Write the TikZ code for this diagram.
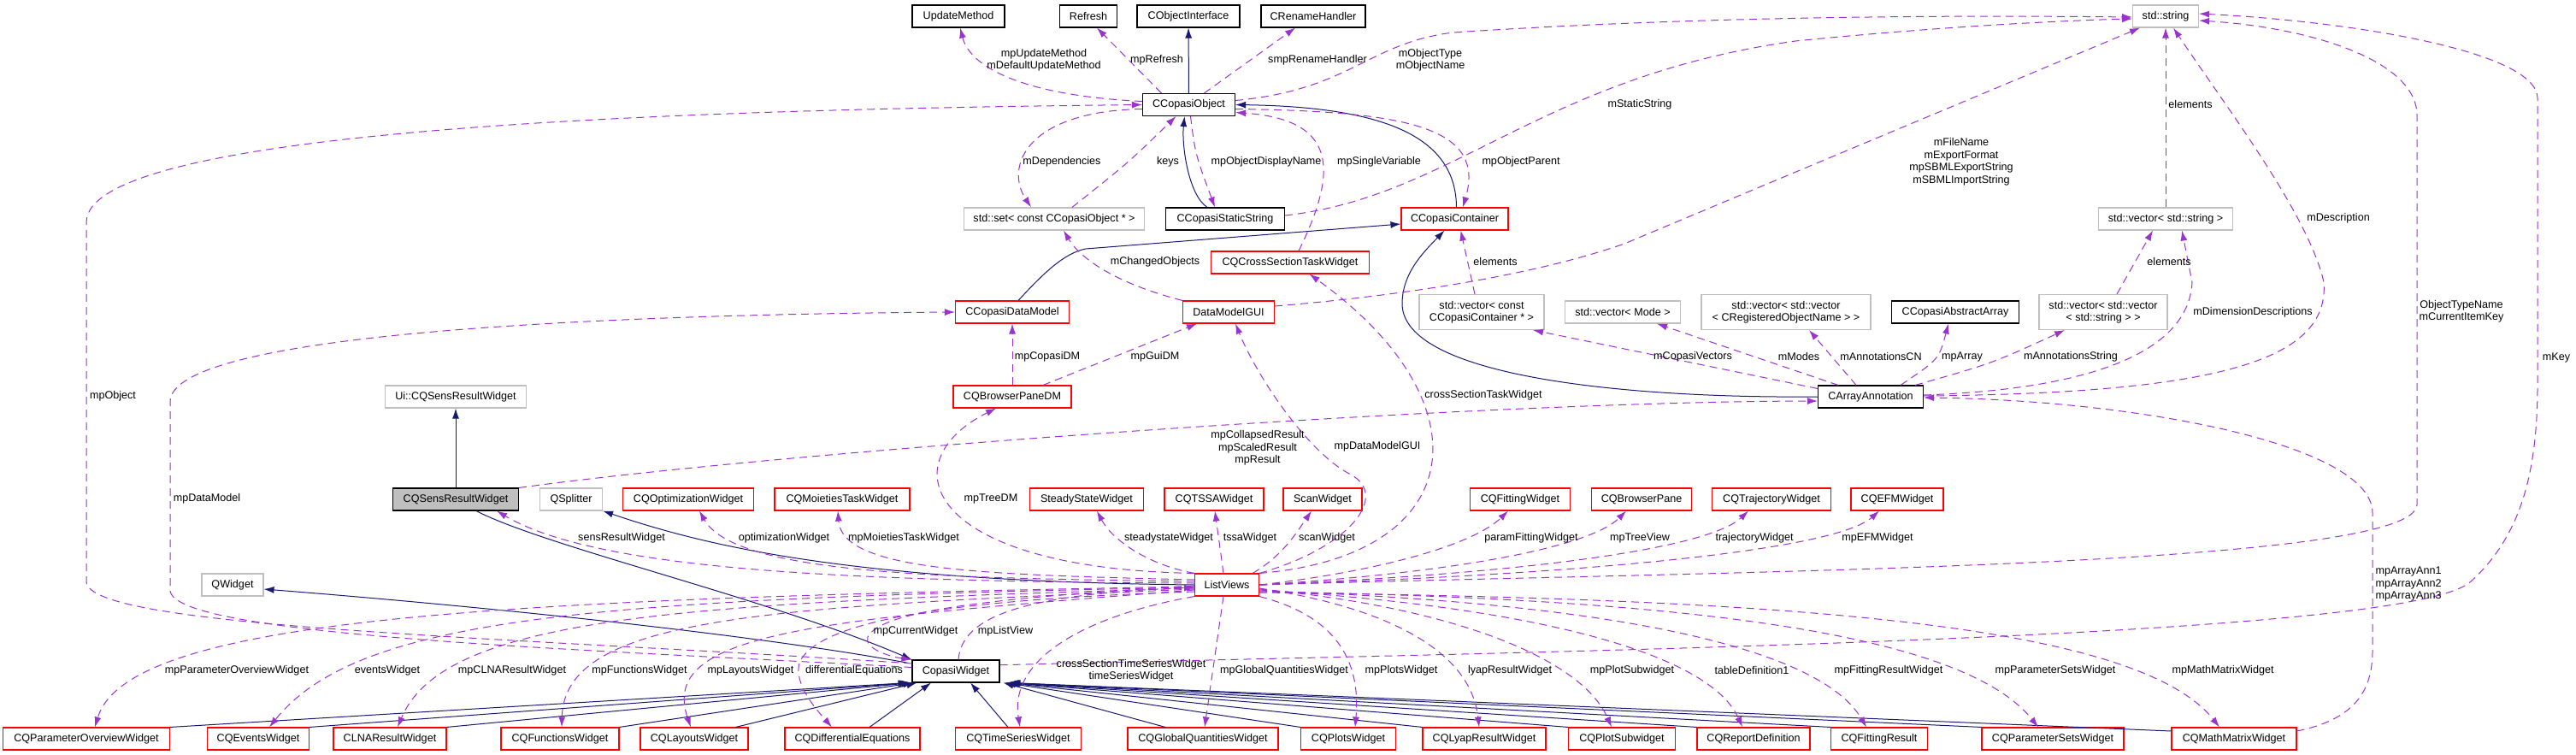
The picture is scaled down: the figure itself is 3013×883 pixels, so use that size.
\documentclass[tikz,border=0pt]{standalone}
\usepackage{fontspec}
\setmainfont{Liberation Sans}
\usetikzlibrary{arrows.meta,calc}
\definecolor{inhcol}{HTML}{191970}
\definecolor{usecol}{HTML}{9A32CD}
\definecolor{redcol}{HTML}{FF0000}
\definecolor{graycol}{HTML}{BFBFBF}
\tikzset{
 boxbase/.style={rectangle, inner sep=0pt, minimum height=26pt, align=center, line width=1.1pt},
 kbox/.style={boxbase, draw=black, fill=white},
 rbox/.style={boxbase, draw=redcol, fill=white},
 gbox/.style={boxbase, draw=graycol, fill=white},
 sbox/.style={boxbase, draw=black, fill=graycol},
 lbl/.style={inner sep=0pt, align=center},
 inhedge/.style={draw=inhcol, line width=1pt, -{Latex[length=12pt,width=8pt]}},
 useedge/.style={draw=usecol, line width=1pt, dash pattern=on 9pt off 6pt, -{Latex[length=12pt,width=8pt]}},
}
\begin{document}
\begin{tikzpicture}[x=1pt,y=-1pt,font=\fontsize{12.6}{14.5}\selectfont]
\path[use as bounding box, fill=white] (0,0) rectangle (3013,883);
% ---------------- nodes ----------------
\node[kbox, minimum width=108pt] (um) at (1121,19) {UpdateMethod};
\node[kbox, minimum width=67pt] (rf) at (1273,19) {Refresh};
\node[kbox, minimum width=120pt] (coi) at (1390,19) {CObjectInterface};
\node[kbox, minimum width=122pt] (crh) at (1536,19) {CRenameHandler};
\node[gbox, minimum width=77pt] (str) at (2533,19) {std::string};
\node[kbox, minimum width=108pt] (cco) at (1390.5,122.5) {CCopasiObject};
\node[gbox, minimum width=211pt] (sset) at (1233,256) {std::set< const CCopasiObject * >};
\node[kbox, minimum width=139pt] (css) at (1433,256) {CCopasiStaticString};
\node[rbox, minimum width=125pt] (ccc) at (1701.5,256) {CCopasiContainer};
\node[gbox, minimum width=157pt] (vstr) at (2533,256) {std::vector< std::string >};
\node[rbox, minimum width=185pt] (cqcs) at (1509,307) {CQCrossSectionTaskWidget};
\node[rbox, minimum width=133pt] (cdm) at (1184,365) {CCopasiDataModel};
\node[rbox, minimum width=107pt] (dmg) at (1437,365) {DataModelGUI};
\node[gbox, minimum width=146pt, minimum height=41pt] (vcc) at (1733,365) {std::vector< const\\CCopasiContainer * >};
\node[gbox, minimum width=135pt] (vmode) at (1898,365) {std::vector< Mode >};
\node[gbox, minimum width=198pt, minimum height=41pt] (vvcn) at (2089,365) {std::vector< std::vector\\< CRegisteredObjectName > >};
\node[kbox, minimum width=149pt] (caa) at (2287,365) {CCopasiAbstractArray};
\node[gbox, minimum width=150pt, minimum height=41pt] (vvstr) at (2460,365) {std::vector< std::vector\\< std::string > >};
\node[gbox, minimum width=165pt] (uisens) at (533,464) {Ui::CQSensResultWidget};
\node[rbox, minimum width=138pt] (bpdm) at (1184,464) {CQBrowserPaneDM};
\node[kbox, minimum width=123pt] (carr) at (2188,464) {CArrayAnnotation};
\node[sbox, minimum width=147pt] (sens) at (533,584) {CQSensResultWidget};
\node[gbox, minimum width=73pt] (qspl) at (668,584) {QSplitter};
\node[rbox, minimum width=153pt] (opt) at (805,584) {CQOptimizationWidget};
\node[rbox, minimum width=158pt] (moi) at (985,584) {CQMoietiesTaskWidget};
\node[rbox, minimum width=133pt] (ssw) at (1271,584) {SteadyStateWidget};
\node[rbox, minimum width=116pt] (tssa) at (1420,584) {CQTSSAWidget};
\node[rbox, minimum width=92pt] (scan) at (1547,584) {ScanWidget};
\node[rbox, minimum width=117pt] (fit) at (1778,584) {CQFittingWidget};
\node[rbox, minimum width=117pt] (bp) at (1920,584) {CQBrowserPane};
\node[rbox, minimum width=139pt] (traj) at (2072,584) {CQTrajectoryWidget};
\node[rbox, minimum width=108pt] (efm) at (2219,584) {CQEFMWidget};
\node[gbox, minimum width=72pt] (qw) at (272,684) {QWidget};
\node[rbox, minimum width=75pt] (lv) at (1435,684) {ListViews};
\node[kbox, minimum width=102pt] (cw) at (1118,785) {CopasiWidget};
\node[rbox, minimum width=195pt] (pow) at (101,864) {CQParameterOverviewWidget};
\node[rbox, minimum width=119pt] (ev) at (302,864) {CQEventsWidget};
\node[rbox, minimum width=132pt] (clna) at (456,864) {CLNAResultWidget};
\node[rbox, minimum width=138pt] (fun) at (655,864) {CQFunctionsWidget};
\node[rbox, minimum width=126pt] (lay) at (812,864) {CQLayoutsWidget};
\node[rbox, minimum width=158pt] (de) at (997,864) {CQDifferentialEquations};
\node[rbox, minimum width=147pt] (ts) at (1191,864) {CQTimeSeriesWidget};
\node[rbox, minimum width=176pt] (gq) at (1407,864) {CQGlobalQuantitiesWidget};
\node[rbox, minimum width=111pt] (plots) at (1577,864) {CQPlotsWidget};
\node[rbox, minimum width=144pt] (lyap) at (1736,864) {CQLyapResultWidget};
\node[rbox, minimum width=125pt] (psub) at (1897,864) {CQPlotSubwidget};
\node[rbox, minimum width=132pt] (rd) at (2051,864) {CQReportDefinition};
\node[rbox, minimum width=113pt] (fr) at (2198,864) {CQFittingResult};
\node[rbox, minimum width=166pt] (psw) at (2401,864) {CQParameterSetsWidget};
\node[rbox, minimum width=146pt] (mmw) at (2613,864) {CQMathMatrixWidget};
% ---------------- inheritance edges ----------------
\draw[inhedge] (cco) -- (coi);
\draw[inhedge] ($(css.north)+(-21,0)$) .. controls (1390,228) and (1382,170) .. ($(cco.south)+(-5,0)$);
\draw[inhedge] ($(ccc.north)+(2,0)$) .. controls (1703,160) and (1620,125) .. (cco.east);
\draw[inhedge] ($(cdm.north)+(7,0)$) .. controls (1222,318) and (1245,296) .. (1270,291) -- ($(ccc.west)+(0,6)$);
\draw[inhedge] (carr.west) .. controls (1900,466) and (1640,440) .. (1640,355) .. controls (1640,318) and (1668,292) .. ($(ccc.south)+(-12,0)$);
\draw[inhedge] (sens) -- (uisens);
\draw[inhedge] ($(sens.south)+(24,0)$) .. controls (640,640) and (900,700) .. (cw.north west);
\draw[inhedge] ($(cw.north west)+(-4,4)$) .. controls (900,745) and (600,712) .. ($(qw.east)+(0,5)$);
\draw[inhedge] (lv.west) .. controls (1000,680) and (830,640) .. (qspl.south east);
\draw[inhedge] (pow.north east) -- ($(cw.south west)+(-4,0)$);
\draw[inhedge] (ev.north east) -- ($(cw.south west)+(-2,0)$);
\draw[inhedge] (clna.north east) -- (cw.south west);
\draw[inhedge] (fun.north east) -- ($(cw.south west)+(2,0)$);
\draw[inhedge] ($(lay.north east)+(-15,0)$) -- ($(cw.south west)+(6,0)$);
\draw[inhedge] ($(de.north)+(20,0)$) -- ($(cw.south)+(-29,0)$);
\draw[inhedge] ($(ts.north)+(-12,0)$) -- ($(cw.south)+(17,0)$);
\draw[inhedge] ($(gq.north)+(-44,0)$) -- ($(cw.south east)+(4,0)$);
\draw[inhedge] (plots.north west) -- ($(cw.south east)+(6,0)$);
\draw[inhedge] (lyap.north west) -- ($(cw.south east)+(7,0)$);
\draw[inhedge] (psub.north west) -- ($(cw.south east)+(8,0)$);
\draw[inhedge] (rd.north west) -- ($(cw.south east)+(9,0)$);
\draw[inhedge] (fr.north west) -- ($(cw.south east)+(10,0)$);
\draw[inhedge] (psw.north west) -- ($(cw.south east)+(11,0)$);
\draw[inhedge] ($(mmw.west)+(0,-9)$) -- ($(cw.south east)+(12,0)$);
% ---------------- usage edges ----------------
\draw[useedge] ($(cco.west)+(0,-4)$) .. controls (1200,112) and (1135,80) .. ($(um.south)+(2,0)$);
\draw[useedge] ($(cco.north)+(-32,0)$) -- ($(rf.south)+(10,0)$);
\draw[useedge] ($(cco.north)+(18,0)$) -- ($(crh.south)+(-21,0)$);
\draw[useedge] ($(cco.east)+(0,-5)$) .. controls (1580,105) and (1600,50) .. (1700,38) .. controls (2000,18) and (2300,18) .. ($(str.west)+(0,1)$);
\draw[useedge] ($(cco.west)+(0,5)$) .. controls (1200,130) and (1175,195) .. ($(sset.north)+(-27,0)$);
\draw[useedge] ($(sset.north)+(21,0)$) .. controls (1320,190) .. ($(cco.south)+(-15,0)$);
\draw[useedge] ($(cco.south)+(2,0)$) .. controls (1398,180) .. ($(css.north)+(-12,0)$);
\draw[useedge] ($(cco.east)+(0,5)$) .. controls (1650,130) and (1738,150) .. ($(ccc.north)+(9.5,0)$);
\draw[useedge] ($(cqcs.north)+(10,0)$) .. controls (1565,200) and (1565,140) .. ($(cco.east)+(0,9)$);
\draw[useedge] ($(css.east)+(0,-4)$) .. controls (1700,230) and (1800,90) .. (2100,48) .. controls (2300,28) and (2450,23) .. ($(str.west)+(0,3)$);
\draw[useedge] ($(dmg.east)+(0,-7)$) .. controls (1650,345) and (1800,320) .. (1900,285) -- ($(str.south)+(-30,0)$);
\draw[useedge] (dmg.north west) .. controls (1300,330) and (1262,300) .. ($(sset.south)+(11,0)$);
\draw[useedge] (bpdm) -- (cdm);
\draw[useedge] ($(bpdm.north)+(36,0)$) -- ($(dmg.south)+(-37,0)$);
\draw[useedge] ($(vcc.north)+(-8,0)$) -- ($(ccc.south)+(7,0)$);
\draw[useedge] (vstr) -- (str);
\draw[useedge] ($(vvstr.north)+(16,0)$) -- ($(vstr.south)+(-15,0)$);
\draw[useedge] ($(carr.north west)+(0,4)$) -- ($(vcc.south)+(60,0)$);
\draw[useedge] ($(carr.north)+(-38,0)$) -- ($(vmode.south)+(40,0)$);
\draw[useedge] ($(carr.north)+(-17,0)$) -- ($(vvcn.south)+(27,0)$);
\draw[useedge] ($(carr.north)+(35,0)$) .. controls (2268,420) .. ($(caa.south)+(-8,0)$);
\draw[useedge] ($(carr.north east)+(-10,0)$) .. controls (2330,425) .. ($(vvstr.south)+(-45,0)$);
\draw[useedge] ($(carr.east)+(0,-2)$) .. controls (2450,455) and (2560,410) .. (2564,330) -- ($(vstr.south)+(19,0)$);
\draw[useedge] ($(carr.east)+(0,-1)$) .. controls (2600,460) and (2725,420) .. (2718,330) .. controls (2700,250) and (2600,120) .. ($(str.south)+(9,0)$);
\draw[useedge] (mmw.7) .. controls (2762,840) and (2775,800) .. (2775,760) -- (2775,600) .. controls (2775,520) and (2500,468) .. ($(carr.east)+(0,1)$);
\draw[useedge] (sens.north east) .. controls (900,530) and (1700,470) .. ($(carr.west)+(0,5)$);
\draw[useedge] (cw.170) .. controls (600,745) and (101,735) .. (101,680) -- (101,260) .. controls (101,150) and (800,128) .. (cco.west);
\draw[useedge] (cw.175) .. controls (700,760) and (199,745) .. (199,690) -- (199,470) .. controls (199,390) and (700,368) .. (cdm.west);
\draw[useedge] ($(cw.north)+(3,0)$) .. controls (1125,720) and (1200,695) .. ($(lv.west)+(0,3)$);
\draw[useedge] (cw.8) .. controls (1800,762) and (2820,748) .. (2890,680) .. controls (2945,630) and (2968,560) .. (2968,450) -- (2968,115) .. controls (2968,60) and (2750,25) .. ($(str.east)+(0,-3)$);
\draw[useedge] (lv.east) .. controls (2000,668) and (2827,665) .. (2827,590) -- (2827,135) .. controls (2827,70) and (2700,32) .. ($(str.east)+(0,5)$);
% ListViews fan, upward
\draw[useedge] ($(lv.west)+(0,-2)$) .. controls (1000,680) and (700,668) .. ($(sens.south)+(48,0)$);
\draw[useedge] ($(lv.west)+(0,-4)$) .. controls (1100,676) and (860,672) .. ($(opt.south)+(13,0)$);
\draw[useedge] ($(lv.west)+(0,-6)$) .. controls (1150,672) and (985,668) .. ($(moi.south)+(-5,0)$);
\draw[useedge] (lv.north west) .. controls (1080,665) and (1040,540) .. ($(bpdm.south)+(-19,0)$);
\draw[useedge] (lv.north west) .. controls (1340,660) and (1300,630) .. ($(ssw.south)+(12,0)$);
\draw[useedge] ($(lv.north)+(-4,0)$) -- ($(tssa.south)+(1,0)$);
\draw[useedge] ($(lv.north east)+(-8,0)$) .. controls (1500,650) and (1515,625) .. ($(scan.south)+(-13,0)$);
\draw[useedge] (lv.north east) .. controls (1720,650) and (1740,470) .. ($(cqcs.south)+(22.5,0)$);
\draw[useedge] (lv.north east) .. controls (1580,640) and (1625,580) .. (1580,555) .. controls (1530,530) and (1470,440) .. ($(dmg.south)+(8,0)$);
\draw[useedge] (lv.east) .. controls (1600,670) and (1720,640) .. ($(fit.south)+(-14,0)$);
\draw[useedge] (lv.east) .. controls (1700,670) and (1860,640) .. ($(bp.south)+(-18,0)$);
\draw[useedge] (lv.east) .. controls (1800,670) and (2000,640) .. ($(traj.south)+(-27,0)$);
\draw[useedge] (lv.east) .. controls (1900,670) and (2150,640) .. ($(efm.south)+(-21,0)$);
% ListViews fan, downward
\draw[useedge] ($(lv.west)+(0,1)$) .. controls (1150,700) and (1030,715) .. (1015,745) .. controls (1010,758) and (1040,768) .. (cw.north west);
\draw[useedge] ($(lv.west)+(0,2)$) .. controls (600,700) and (150,720) .. ($(pow.north)+(10,0)$);
\draw[useedge] ($(lv.west)+(0,3)$) .. controls (700,700) and (420,720) .. ($(ev.north)+(13,0)$);
\draw[useedge] ($(lv.west)+(0,4)$) .. controls (800,705) and (520,720) .. ($(clna.north)+(9,0)$);
\draw[useedge] ($(lv.west)+(0,5)$) .. controls (900,710) and (660,720) .. ($(fun.north)+(2,0)$);
\draw[useedge] ($(lv.west)+(0,6)$) .. controls (950,725) and (770,740) .. ($(lay.north)+(-4,0)$);
\draw[useedge] ($(lv.west)+(0,8)$) .. controls (1150,700) and (960,720) .. (935,775) .. controls (928,800) and (955,830) .. ($(de.north)+(-24,0)$);
\draw[useedge] (lv.south west) .. controls (1270,720) and (1180,770) .. ($(ts.north)+(2,0)$);
\draw[useedge] ($(lv.south)+(-4,0)$) -- ($(gq.north)+(2,0)$);
\draw[useedge] (lv.south east) .. controls (1560,720) and (1592,770) .. ($(plots.north)+(8,0)$);
\draw[useedge] ($(lv.east)+(0,4)$) .. controls (1620,710) and (1720,760) .. ($(lyap.north)+(-6,0)$);
\draw[useedge] ($(lv.east)+(0,5)$) .. controls (1700,710) and (1850,770) .. ($(psub.north)+(-12,0)$);
\draw[useedge] ($(lv.east)+(0,6)$) .. controls (1800,710) and (2000,765) .. ($(rd.north)+(-13,0)$);
\draw[useedge] ($(lv.east)+(0,7)$) .. controls (1900,705) and (2130,760) .. ($(fr.north)+(-15,0)$);
\draw[useedge] ($(lv.east)+(0,8)$) .. controls (2000,700) and (2300,745) .. ($(psw.north)+(-17,0)$);
\draw[useedge] ($(lv.east)+(0,9)$) .. controls (2100,700) and (2500,730) .. ($(mmw.north)+(-17,0)$);
% ---------------- labels ----------------
\node[lbl] (l1) at (1221,70) {mpUpdateMethod\\mDefaultUpdateMethod};
\node[lbl] (l2) at (1353,70) {mpRefresh};
\node[lbl] (l3) at (1541,70) {smpRenameHandler};
\node[lbl] (l4) at (1673,70) {mObjectType\\mObjectName};
\node[lbl] (l5) at (1918,122) {mStaticString};
\node[lbl] (l6) at (2294,189) {mFileName\\mExportFormat\\mpSBMLExportString\\mSBMLImportString};
\node[lbl] (l7) at (2562,122) {elements};
\node[lbl] (l8) at (1242,189) {mDependencies};
\node[lbl] (l9) at (1366,189) {keys};
\node[lbl] (l10) at (1481,189) {mpObjectDisplayName};
\node[lbl] (l11) at (1613,189) {mpSingleVariable};
\node[lbl] (l12) at (1779,189) {mpObjectParent};
\node[lbl] (l13) at (2735,255) {mDescription};
\node[lbl] (l14) at (1351,306) {mChangedObjects};
\node[lbl] (l15) at (1749,306) {elements};
\node[lbl] (l16) at (1225,417) {mpCopasiDM};
\node[lbl] (l17) at (1351,417) {mpGuiDM};
\node[lbl] (l18) at (1980,417) {mCopasiVectors};
\node[lbl] (l19) at (2104,417) {mModes};
\node[lbl] (l20) at (2200,417) {mAnnotationsCN};
\node[lbl] (l21) at (2295,417) {mpArray};
\node[lbl] (l22) at (2422,417) {mAnnotationsString};
\node[lbl] (l23) at (2537,306) {elements};
\node[lbl] (l24) at (2635,365) {mDimensionDescriptions};
\node[lbl] (l25) at (2879,364) {ObjectTypeName\\mCurrentItemKey};
\node[lbl] (l26) at (2990,418) {mKey};
\node[lbl] (l27) at (132,463) {mpObject};
\node[lbl] (l28) at (242,583) {mpDataModel};
\node[lbl] (l29) at (1471,524) {mpCollapsedResult\\mpScaledResult\\mpResult};
\node[lbl] (l30) at (1735,462) {crossSectionTaskWidget};
\node[lbl] (l31) at (1611,522) {mpDataModelGUI};
\node[lbl] (l32) at (1159,583) {mpTreeDM};
\node[lbl] (l33) at (727,629) {sensResultWidget};
\node[lbl] (l34) at (917,629) {optimizationWidget};
\node[lbl] (l35) at (1057,629) {mpMoietiesTaskWidget};
\node[lbl] (l36) at (1367,629) {steadystateWidget};
\node[lbl] (l37) at (1462,629) {tssaWidget};
\node[lbl] (l38) at (1552,629) {scanWidget};
\node[lbl] (l39) at (1791,629) {paramFittingWidget};
\node[lbl] (l40) at (1918,629) {mpTreeView};
\node[lbl] (l41) at (2052,629) {trajectoryWidget};
\node[lbl] (l42) at (2196,629) {mpEFMWidget};
\node[lbl] (l43) at (1071,738) {mpCurrentWidget};
\node[lbl] (l44) at (1176,738) {mpListView};
\node[lbl] (l45) at (277,784) {mpParameterOverviewWidget};
\node[lbl] (l46) at (453,784) {eventsWidget};
\node[lbl] (l47) at (599,784) {mpCLNAResultWidget};
\node[lbl] (l48) at (748,784) {mpFunctionsWidget};
\node[lbl] (l49) at (878,784) {mpLayoutsWidget};
\node[lbl] (l50) at (999,784) {differentialEquations};
\node[lbl] (l51) at (1323,784) {crossSectionTimeSeriesWidget\\timeSeriesWidget};
\node[lbl] (l52) at (1502,784) {mpGlobalQuantitiesWidget};
\node[lbl] (l53) at (1639,784) {mpPlotsWidget};
\node[lbl] (l54) at (1766,784) {lyapResultWidget};
\node[lbl] (l55) at (1909,784) {mpPlotSubwidget};
\node[lbl] (l56) at (2049,784) {tableDefinition1};
\node[lbl] (l57) at (2209,784) {mpFittingResultWidget};
\node[lbl] (l58) at (2404,784) {mpParameterSetsWidget};
\node[lbl] (l59) at (2600,784) {mpMathMatrixWidget};
\node[lbl] (l60) at (2817,683) {mpArrayAnn1\\mpArrayAnn2\\mpArrayAnn3};
\end{tikzpicture}
\end{document}
